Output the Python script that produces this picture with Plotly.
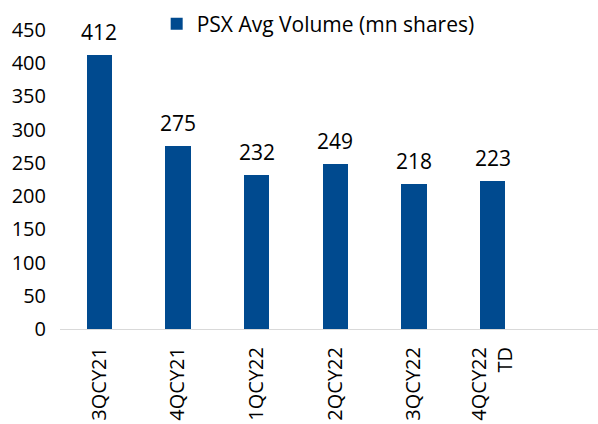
import plotly.graph_objects as go

categories = ["3QCY21", "4QCY21", "1QCY22", "2QCY22", "3QCY22", "4QCY22<br>TD"]
values = [412, 275, 232, 249, 218, 223]
series_name = "PSX Avg Volume (mn shares)"
y_ticks = [0, 50, 100, 150, 200, 250, 300, 350, 400, 450]

color = "#004A8F"
font_family = "Open Sans, Noto Sans, sans-serif"

fig = go.Figure()
fig.add_trace(go.Bar(
    x=list(range(len(categories))), y=values, name=series_name,
    marker=dict(color=color, line=dict(width=0)),
    width=0.32, showlegend=True,
))
for i, v in enumerate(values):
    fig.add_annotation(x=i, y=v, text=str(v), showarrow=False,
                       yanchor="bottom", yshift=7,
                       font=dict(size=21, color="#000000", family=font_family))

fig.update_layout(
    width=598, height=424,
    margin=dict(l=60, r=0, t=30, b=95, autoexpand=False),
    paper_bgcolor="white", plot_bgcolor="white",
    font=dict(family=font_family, size=20, color="#000000"),
    showlegend=True,
    legend=dict(xref="container", yref="container", x=0.262, y=0.943,
                xanchor="left", yanchor="middle",
                font=dict(size=21, color="#000000"), bgcolor="rgba(0,0,0,0)",
                itemwidth=30),
    bargap=0,
)
fig.update_xaxes(
    range=[-0.5, 6.34],
    tickvals=list(range(len(categories))), ticktext=categories,
    tickangle=-90, tickfont=dict(size=20),
    showline=True, linecolor="#D9D9D9", linewidth=1,
    showgrid=False, zeroline=False, ticks="",
    ticklabelstandoff=9, automargin=False,
)
fig.update_yaxes(
    range=[0, 450], tickvals=y_ticks,
    tickfont=dict(size=20),
    showgrid=False, zeroline=False, showline=False, ticks="",
    ticklabelstandoff=13, automargin=False,
)
fig.write_html("out.html",
               config={"displayModeBar": False},
               post_script="document.body.style.margin='0';document.body.style.overflow='hidden';")
